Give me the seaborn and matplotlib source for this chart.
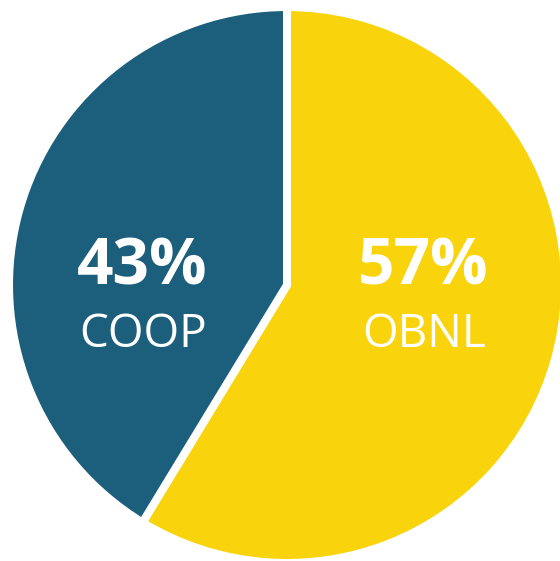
import matplotlib
matplotlib.use('Agg')
import matplotlib.pyplot as plt
import seaborn as sns

sns.set_style("white")
plt.rcParams['font.family'] = ['Open Sans', 'DejaVu Sans']

# Data
categories = ['OBNL', 'COOP']
shares = [57, 43]              # printed labels
slice_sizes = [58.7, 41.3]     # slice sweep as drawn in the original
colors = ['#F9D40C', '#1B5F7C']

fig = plt.figure(figsize=(5.6, 5.61), dpi=100)
ax = fig.add_axes([0, 0, 1, 1])

# pie in pixel-like data space so the circle can sit off-centre like the original
cx, cy, r = 287, 561 - 285, 278
ax.pie(slice_sizes, colors=colors, startangle=90, counterclock=False,
       center=(cx, cy), radius=r,
       wedgeprops=dict(edgecolor='white', linewidth=5.8))
ax.set_xlim(0, 560)
ax.set_ylim(0, 561)
ax.set_aspect('equal')
ax.axis('off')

# labels: percentage (bold) above category name
label_pos = {'OBNL': (423, 561 - 268), 'COOP': (142, 561 - 268)}
for cat, val in zip(categories, shares):
    x, y = label_pos[cat]
    ax.text(x, y, f'{val}%', ha='center', va='center', color='white',
            fontsize=46, fontweight='bold')
    ax.text(x + 1, y - 67, cat, ha='center', va='center', color='white',
            fontsize=33)

fig.savefig('out.png', dpi=100)
